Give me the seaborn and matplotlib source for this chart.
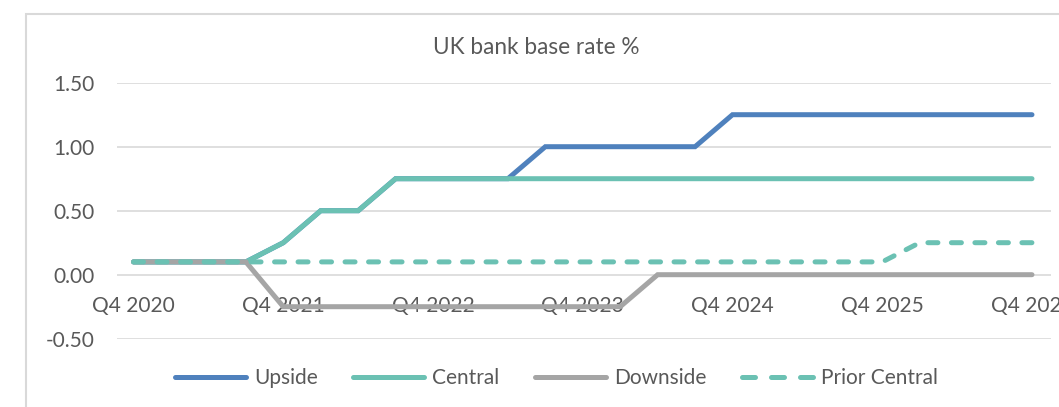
import matplotlib
matplotlib.use("Agg")
import matplotlib.pyplot as plt
import matplotlib.patches as patches
import pandas as pd
import seaborn as sns

# Quarterly path of the UK bank base rate under each scenario (%)
quarters = [f"Q{q} {y}" for y, q in
            [(2020, 4)] + [(y, q) for y in range(2021, 2027) for q in (1, 2, 3, 4)]]
upside = [0.10, 0.10, 0.10, 0.10, 0.25, 0.50, 0.50, 0.75, 0.75, 0.75, 0.75,
          1.00, 1.00, 1.00, 1.00, 1.00, 1.25, 1.25, 1.25, 1.25, 1.25, 1.25,
          1.25, 1.25, 1.25]
central = [0.10, 0.10, 0.10, 0.10, 0.25, 0.50, 0.50, 0.75, 0.75, 0.75, 0.75,
           0.75, 0.75, 0.75, 0.75, 0.75, 0.75, 0.75, 0.75, 0.75, 0.75, 0.75,
           0.75, 0.75, 0.75]
downside = [0.10, 0.10, 0.10, 0.10, -0.25, -0.25, -0.25, -0.25, -0.25, -0.25,
            -0.25, -0.25, -0.25, -0.25, 0.00, 0.00, 0.00, 0.00, 0.00, 0.00,
            0.00, 0.00, 0.00, 0.00, 0.00]
prior_central = [0.10, 0.10, 0.10, 0.10, 0.10, 0.10, 0.10, 0.10, 0.10, 0.10,
                 0.10, 0.10, 0.10, 0.10, 0.10, 0.10, 0.10, 0.10, 0.10, 0.10,
                 0.10, 0.25, 0.25, 0.25, 0.25]
series_names = ["Upside", "Central", "Downside", "Prior Central"]
y_ticks = [-0.50, 0.00, 0.50, 1.00, 1.50]

BLUE = "#4F81BD"
TEAL = "#6BC1B3"
GREY = "#A5A5A5"
TEXT = "#595959"
GRID = "#D9D9D9"

sns.set_theme(style="white")
plt.rcParams["font.family"] = ["Lato", "DejaVu Sans"]
plt.rcParams["font.size"] = 15

df = pd.DataFrame({
    "idx": list(range(len(quarters))) * 4,
    "rate": upside + central + downside + prior_central,
    "scenario": sum([[n] * len(quarters) for n in series_names], []),
})

W, H = 1059, 407
fig = plt.figure(figsize=(W / 100, H / 100), dpi=100)
ax = fig.add_axes([116.7 / W, 1 - 338.7 / H, (1050.7 - 116.7) / W, (338.7 - 82.7) / H])

lw = 3.6
styles = {
    "Upside": dict(color=BLUE, z=3),
    "Central": dict(color=TEAL, z=4),
    "Downside": dict(color=GREY, z=5),
    "Prior Central": dict(color=TEAL, z=6),
}
for name in series_names:
    sub = df[df["scenario"] == name]
    st = styles[name]
    sns.lineplot(data=sub, x="idx", y="rate", ax=ax, color=st["color"],
                 linewidth=lw, zorder=st["z"], label=name, legend=False,
                 solid_capstyle="round", solid_joinstyle="miter")

# dashed style for the prior central path
prior_line = ax.get_lines()[3]
prior_line.set_dashes((2.0, 2.7))
prior_line.set_dash_capstyle("round")

ax.set_xlim(-0.45, 24.5)
ax.set_ylim(-0.5, 1.5)
ax.set_yticks(y_ticks)
ax.set_yticklabels([f"{v:.2f}" for v in y_ticks])
tick_idx = list(range(0, len(quarters), 4))
ax.set_xticks(tick_idx)
ax.set_xticklabels([quarters[i] for i in tick_idx])
ax.set_xlabel("")
ax.set_ylabel("")

ax.yaxis.grid(True, color=GRID, linewidth=1.2)
ax.xaxis.grid(False)
ax.set_axisbelow(True)
for s in ax.spines.values():
    s.set_visible(False)
ax.spines["bottom"].set_position(("data", 0))
ax.tick_params(axis="x", length=0, pad=15, labelsize=15, labelcolor=TEXT)
ax.tick_params(axis="y", length=0, pad=16, labelsize=15, labelcolor=TEXT)
for lab in ax.get_xticklabels():
    lab.set_clip_on(False)

fig.text(536 / W, 1 - 54.3 / H, "UK bank base rate %", ha="center",
         va="baseline", fontsize=16.3, color=TEXT)

handles = ax.get_lines()[:4]
leg = fig.legend(handles, series_names, loc="center",
                 bbox_to_anchor=(556.5 / W, 1 - 378 / H), ncol=4, frameon=False,
                 handlelength=3.4, handletextpad=0.4, columnspacing=1.7,
                 fontsize=15, borderpad=0)
for t in leg.get_texts():
    t.set_color(TEXT)
# legend sample for the dashed series shows three dashes
leg.legend_handles[3].set_dashes((2.6, 3.2))

# chart area border
fig.patches.append(patches.Rectangle((26 / W, -0.2), 1.2, (H - 14) / H + 0.2,
                                     transform=fig.transFigure, fill=False,
                                     edgecolor=GRID, linewidth=1.5))

fig.savefig("out.png", dpi=100)
